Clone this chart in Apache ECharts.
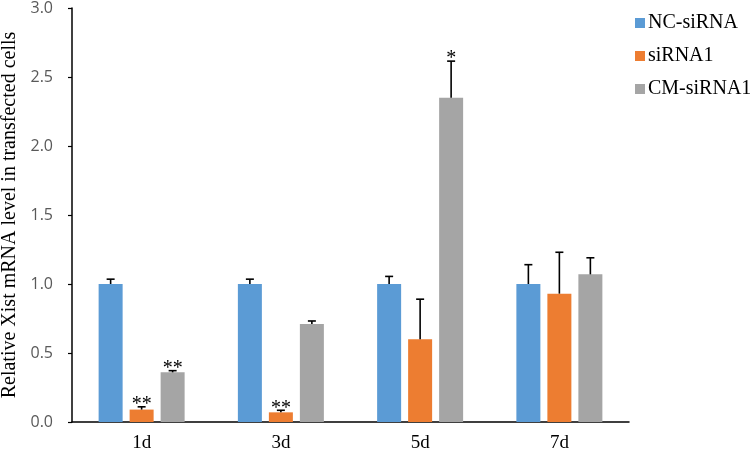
<!DOCTYPE html>
<html>
<head>
<meta charset="utf-8">
<script src="https://cdn.jsdelivr.net/npm/echarts@6/dist/echarts.min.js"></script>
<style>html,body{margin:0;padding:0;background:#fff}#c{width:750px;height:453px}</style>
</head>
<body>
<div id="c"></div>
<script>
var categories = ['1d', '3d', '5d', '7d'];
var seriesNames = ['NC-siRNA', 'siRNA1', 'CM-siRNA1'];
var ncValues = [1.0, 1.0, 1.0, 1.0];
var ncErrors = [0.035, 0.035, 0.055, 0.14];
var ncSig = ['', '', '', ''];
var si1Values = [0.09, 0.07, 0.60, 0.93];
var si1Errors = [0.02, 0.015, 0.29, 0.30];
var si1Sig = ['**', '**', '', ''];
var cmValues = [0.36, 0.71, 2.35, 1.07];
var cmErrors = [0.012, 0.022, 0.265, 0.12];
var cmSig = ['**', '', '*', ''];
var yTicks = [0, 0.5, 1.0, 1.5, 2.0, 2.5, 3.0];

var colors = ['#5B9BD5', '#ED7D31', '#A5A5A5'];
var BW = 24, GAP = 7;
var values = [ncValues, si1Values, cmValues];
var errors = [ncErrors, si1Errors, cmErrors];
var sigs = [ncSig, si1Sig, cmSig];

var chart = echarts.init(document.getElementById('c'));
var series = [];
seriesNames.forEach(function (name, s) {
  series.push({
    name: name, type: 'bar', data: values[s], barWidth: BW, barGap: (GAP / BW * 100) + '%',
    itemStyle: { color: colors[s] }, z: 2
  });
});
seriesNames.forEach(function (name, s) {
  var data = categories.map(function (c, i) { return [i, values[s][i], errors[s][i]]; });
  series.push({
    type: 'custom', name: name + '-err', data: data, z: 5, silent: true,
    renderItem: function (params, api) {
      var i = api.value(0), v = api.value(1), e = api.value(2);
      var sig = sigs[s][i];
      var base = api.coord([i, v]);
      var top = api.coord([i, v + e]);
      var x = base[0] + (s - 1) * (BW + GAP);
      var children = [
        { type: 'line', shape: { x1: x, y1: base[1], x2: x, y2: top[1] }, style: { stroke: '#000', lineWidth: 1.6 } },
        { type: 'line', shape: { x1: x - 4, y1: top[1], x2: x + 4, y2: top[1] }, style: { stroke: '#000', lineWidth: 1.6 } }
      ];
      if (sig) {
        children.push({ type: 'text', x: x, y: top[1] + 8, style: { text: sig, fill: '#000', font: '20px "Liberation Serif"', align: 'center', verticalAlign: 'bottom' } });
      }
      return { type: 'group', children: children };
    }
  });
});

chart.setOption({
  animation: false,
  backgroundColor: '#fff',
  grid: { left: 72, right: 121, top: 8, bottom: 31, containLabel: false, outerBoundsMode: 'none' },
  legend: {
    data: seriesNames, orient: 'vertical', left: 630, top: 8, itemWidth: 10, itemHeight: 10, itemGap: 13,
    icon: 'rect',
    textStyle: { fontFamily: 'Liberation Serif', fontSize: 20, color: '#000', padding: [0, 0, 0, -2] }
  },
  xAxis: {
    type: 'category', data: categories,
    axisLine: { lineStyle: { color: '#000', width: 1.5 } },
    axisTick: { show: false },
    axisLabel: { fontFamily: 'Liberation Serif', fontSize: 19, color: '#000', margin: 12 }
  },
  yAxis: {
    type: 'value', min: 0, max: 3, interval: 0.5,
    name: 'Relative Xist mRNA level in transfected cells', nameLocation: 'middle', nameGap: 48,
    nameTextStyle: { fontFamily: 'Liberation Serif', fontSize: 20, color: '#000' },
    axisLine: { show: true, lineStyle: { color: '#000', width: 1.5 } },
    axisTick: { show: true, length: 4, lineStyle: { color: '#000', width: 1.2 } },
    splitLine: { show: false },
    axisLabel: { fontFamily: 'Open Sans', fontSize: 16, color: '#595959', margin: 19,
      formatter: function (v) { return yTicks.indexOf(v) >= 0 ? v.toFixed(1) : ''; } }
  },
  series: series
});
</script>
</body>
</html>
